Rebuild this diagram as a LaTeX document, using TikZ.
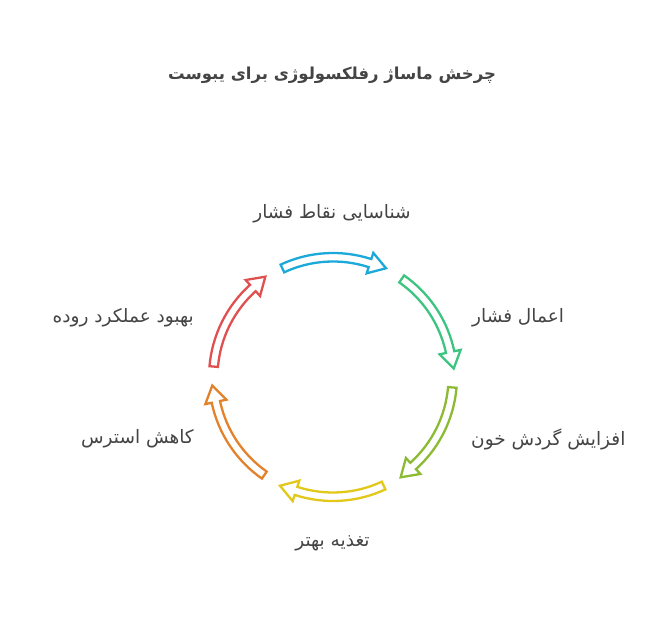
\documentclass[tikz,border=0pt]{standalone}
\usepackage{fontspec}
\TeXXeTstate=1
\newfontfamily\arabicfont[Script=Arabic]{DejaVu Sans}
\definecolor{cCyan}{HTML}{1CA9D9}
\definecolor{cGreen}{HTML}{3CC480}
\definecolor{cLime}{HTML}{8CBB33}
\definecolor{cYellow}{HTML}{E3C81C}
\definecolor{cOrange}{HTML}{E3822B}
\definecolor{cRed}{HTML}{E05050}
\definecolor{txt}{HTML}{444444}
\tikzset{
  lbl/.style={font=\arabicfont\fontsize{18.5}{21}\selectfont, text=txt, inner sep=0pt},
  ttl/.style={font=\arabicfont\bfseries\fontsize{16.5}{20}\selectfont, text=txt, inner sep=0pt},
  arrowband/.style={line width=2.3pt, fill=white, line join=miter},
}
% #1 centre angle, #2 colour
\newcommand{\cycarrow}[2]{%
  \pgfmathsetmacro{\ta}{#1+25}%
  \pgfmathsetmacro{\tb}{#1-18}%
  \pgfmathsetmacro{\tc}{#1-26}%
  \draw[arrowband, draw=#2] (\ta:124) arc[start angle=\ta, end angle=\tb, radius=124]
     -- (\tb:130.5) -- (\tc:121) -- (\tb:109) -- (\tb:115.5)
     arc[start angle=\tb, end angle=\ta, radius=115.5] -- cycle;}
\begin{document}
\begin{tikzpicture}[x=1pt,y=1pt]
\useasboundingbox (0,0) rectangle (665,-620);
\node[ttl] (title) at (332,-75) {\beginR چرخش ماساژ رفلکسولوژی برای یبوست\endR};
\begin{scope}[shift={(333,-377)}]
  \cycarrow{90}{cCyan}
  \cycarrow{30}{cGreen}
  \cycarrow{-30}{cLime}
  \cycarrow{-90}{cYellow}
  \cycarrow{-150}{cOrange}
  \cycarrow{150}{cRed}
\end{scope}
\node[lbl] (l1) at (332,-214) {\beginR شناسایی نقاط فشار\endR};
\node[lbl, anchor=west] (l2) at (472,-318) {\beginR اعمال فشار\endR};
\node[lbl, anchor=west] (l3) at (471,-439) {\beginR افزایش گردش خون\endR};
\node[lbl] (l4) at (332.5,-543) {\beginR تغذیه بهتر\endR};
\node[lbl, anchor=east] (l5) at (194,-439) {\beginR کاهش استرس\endR};
\node[lbl, anchor=east] (l6) at (194,-318) {\beginR بهبود عملکرد روده\endR};
\end{tikzpicture}
\end{document}
